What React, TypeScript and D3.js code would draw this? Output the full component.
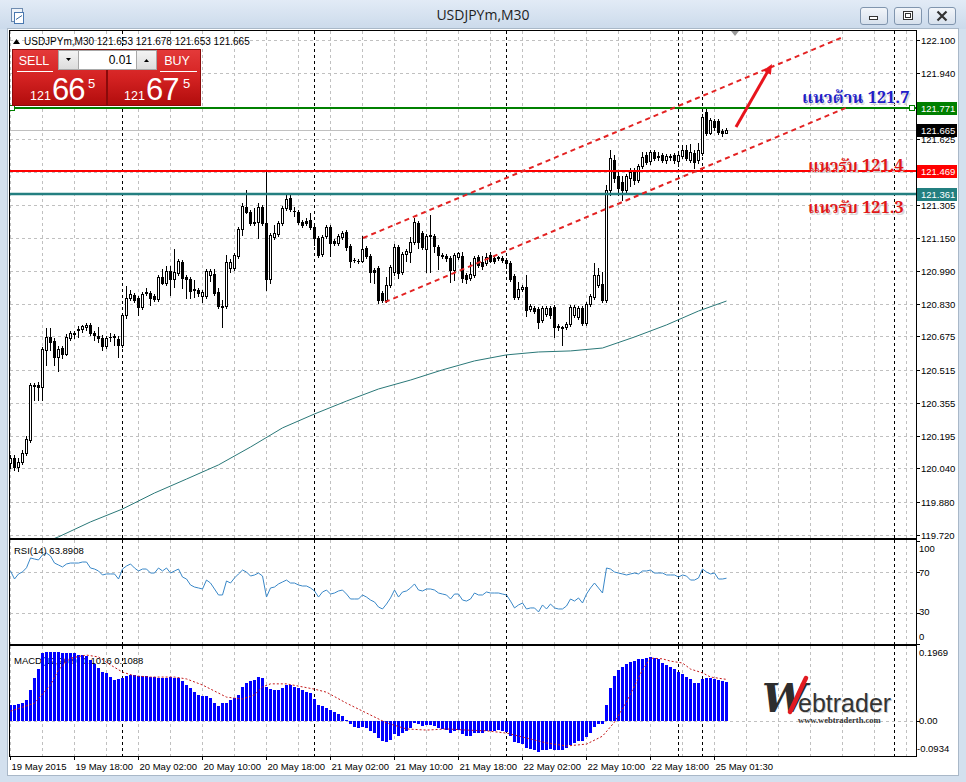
import React from "react";
import * as d3 from "d3";

// ---------------- DATA ----------------
const opens = [
120.066,120.090,120.047,120.071,120.114,120.177,120.441,120.441,120.432,120.610,
120.672,120.653,120.576,120.619,120.590,120.667,120.687,120.706,120.711,120.720,
120.730,120.691,120.677,120.667,120.629,120.672,120.672,120.663,120.634,120.778,
120.860,120.874,120.860,120.816,120.884,120.884,120.869,120.855,120.961,120.932,
120.989,120.951,120.980,121.033,120.961,120.951,120.898,120.898,120.869,120.869,
120.970,120.975,120.889,120.821,120.821,121.004,121.004,121.062,121.191,121.297,
121.273,121.220,121.225,121.297,121.220,120.951,121.153,121.167,121.220,121.292,
121.340,121.278,121.273,121.225,121.230,121.235,121.201,121.148,121.071,121.158,
121.201,121.134,121.124,121.153,121.177,121.110,121.042,121.038,121.038,121.100,
121.062,120.994,121.004,120.884,120.850,120.922,120.985,121.105,120.985,121.071,
121.081,121.129,121.220,121.172,121.095,121.158,121.158,121.105,121.066,121.062,
121.052,120.994,121.057,121.062,120.970,120.956,120.970,121.057,121.033,121.028,
121.066,121.052,121.052,121.052,121.042,121.028,120.966,120.865,120.903,120.913,
120.807,120.812,120.807,120.754,120.783,120.812,120.816,120.725,120.715,120.720,
120.735,120.778,120.768,120.812,120.739,120.831,120.865,120.922,120.927,120.850,
121.379,121.523,121.446,121.417,121.379,121.437,121.465,121.427,121.494,121.547,
121.518,121.561,121.542,121.547,121.523,121.537,121.547,121.518,121.542,121.571,
121.523,121.556,121.523,121.556,121.754,121.653,121.710,121.710,121.662,121.653];
const highs = [
120.105,120.105,120.090,120.129,120.196,120.451,120.451,120.456,120.624,120.715,
120.715,120.667,120.629,120.629,120.687,120.701,120.701,120.725,120.730,120.739,
120.739,120.701,120.720,120.682,120.677,120.691,120.687,120.677,120.788,120.918,
120.898,120.884,120.869,120.889,120.908,120.893,120.879,120.970,120.999,121.014,
121.014,121.095,121.047,121.042,120.970,120.961,120.946,120.908,120.898,120.999,
120.999,120.999,120.908,120.850,121.066,121.047,121.076,121.201,121.316,121.379,
121.283,121.292,121.316,121.307,121.465,121.172,121.211,121.230,121.302,121.364,
121.364,121.297,121.283,121.235,121.244,121.268,121.211,121.158,121.163,121.211,
121.211,121.143,121.167,121.182,121.187,121.119,121.052,121.047,121.158,121.110,
121.071,121.004,121.014,120.893,120.961,121.018,121.119,121.115,121.081,121.095,
121.153,121.244,121.230,121.182,121.167,121.258,121.167,121.115,121.076,121.071,
121.062,121.076,121.081,121.081,120.980,121.033,121.062,121.066,121.062,121.076,
121.081,121.062,121.062,121.062,121.052,121.038,120.975,120.937,120.922,120.970,
120.831,120.821,120.816,120.821,120.821,120.821,120.826,120.735,120.725,120.744,
120.826,120.826,120.821,120.821,120.840,120.879,121.028,121.004,120.985,121.403,
121.571,121.547,121.465,121.446,121.456,121.485,121.485,121.504,121.561,121.561,
121.571,121.571,121.561,121.556,121.552,121.552,121.556,121.556,121.595,121.595,
121.600,121.571,121.605,121.744,121.773,121.725,121.720,121.720,121.672,121.678];
const lows = [
120.042,120.033,120.028,120.062,120.105,120.167,120.369,120.369,120.369,120.538,
120.610,120.538,120.509,120.571,120.586,120.658,120.667,120.672,120.696,120.706,
120.682,120.658,120.648,120.610,120.619,120.653,120.634,120.576,120.624,120.763,
120.850,120.840,120.778,120.807,120.874,120.826,120.845,120.845,120.927,120.922,
120.874,120.913,120.970,120.908,120.860,120.860,120.865,120.869,120.840,120.860,
120.941,120.874,120.812,120.720,120.812,120.985,120.994,121.052,121.163,121.268,
121.211,121.211,121.148,121.211,120.898,120.932,121.143,121.158,121.211,121.283,
121.278,121.254,121.216,121.201,121.211,121.191,121.115,121.057,121.062,121.148,
121.062,121.115,121.115,121.143,121.090,121.009,121.033,121.028,121.033,121.052,
120.937,120.932,120.836,120.840,120.840,120.913,120.970,120.956,120.975,121.038,
121.033,121.119,121.100,121.095,120.985,120.985,121.081,120.999,121.052,121.038,
120.937,120.946,121.047,120.937,120.932,120.946,120.961,121.009,120.999,121.018,
121.033,121.028,121.042,121.033,121.004,120.941,120.855,120.855,120.893,120.773,
120.797,120.788,120.715,120.744,120.773,120.763,120.672,120.706,120.634,120.711,
120.725,120.768,120.759,120.730,120.730,120.821,120.855,120.913,120.840,120.840,
121.355,121.417,121.355,121.331,121.369,121.398,121.408,121.417,121.485,121.504,
121.504,121.523,121.523,121.513,121.509,121.523,121.509,121.494,121.533,121.523,
121.513,121.485,121.509,121.547,121.643,121.648,121.667,121.648,121.638,121.653];
const closes = [
120.090,120.047,120.071,120.114,120.182,120.441,120.437,120.432,120.614,120.672,
120.648,120.576,120.614,120.590,120.672,120.691,120.691,120.711,120.725,120.730,
120.691,120.682,120.667,120.629,120.667,120.672,120.677,120.634,120.778,120.860,
120.879,120.850,120.816,120.879,120.889,120.860,120.855,120.961,120.932,120.989,
120.951,120.985,121.038,120.956,120.951,120.893,120.903,120.884,120.889,120.989,
120.989,120.884,120.821,120.816,121.033,121.033,121.066,121.191,121.302,121.273,
121.220,121.225,121.297,121.220,120.951,121.163,121.172,121.220,121.292,121.335,
121.287,121.278,121.225,121.211,121.220,121.201,121.148,121.066,121.153,121.201,
121.124,121.124,121.158,121.172,121.105,121.038,121.042,121.038,121.095,121.062,
120.985,120.985,120.850,120.850,120.922,121.009,121.105,120.980,121.071,121.086,
121.129,121.225,121.129,121.105,121.158,121.163,121.110,121.066,121.062,121.052,
120.994,121.066,121.076,120.956,120.951,120.975,121.052,121.018,121.014,121.057,
121.038,121.038,121.057,121.042,121.028,120.951,120.865,120.903,120.913,120.802,
120.821,120.797,120.744,120.812,120.812,120.778,120.720,120.720,120.720,120.735,
120.816,120.816,120.812,120.739,120.831,120.869,120.970,120.970,120.850,121.379,
121.533,121.437,121.389,121.379,121.446,121.465,121.427,121.494,121.537,121.513,
121.561,121.533,121.537,121.523,121.542,121.542,121.523,121.547,121.571,121.533,
121.561,121.513,121.571,121.730,121.653,121.715,121.682,121.658,121.655,121.665];

// moving average (read at selected bars)
const maBars = [10,12,20,28,36,44,52,60,68,76,84,92,100,108,116,124,132,140,148,156,164,172,179];
const maValues = [119.696,119.711,119.783,119.845,119.922,119.989,120.057,120.143,120.235,120.302,120.364,120.422,120.465,120.514,120.557,120.586,120.600,120.605,120.619,120.672,120.730,120.797,120.845];

const rsiValues = [
70.9,63.1,68,70,74,83.5,82.5,81.6,86.4,88.3,
85.4,78.6,76.7,74.8,77.7,78.6,78.6,78.6,79.6,79.6,
73.8,72.8,70.9,67,68,68,68,63.1,72.8,75.7,
77.7,73.8,70.9,72.8,72.8,68.9,68.9,73.8,70.9,73.8,
68.9,70.9,72.8,65,63.1,57.3,55.3,54.4,53.4,62.1,
59.2,53.4,47.6,47.6,61.2,59.2,64.1,68,71.8,69.9,
66,67,68.9,66,45.6,54.4,55.3,58.3,60.2,62.1,
59.2,59.2,57.3,56.3,56.3,54.4,51.5,45.6,50.5,52.4,
48.5,49.5,51.5,52.4,48.5,43.7,43.7,43.7,47.6,45.6,
42.7,40.8,35.9,34,38.8,44.7,52.4,45.6,50.5,51.5,
54.4,58.3,52.4,51.5,53.4,53.4,52.4,49.5,48.5,47.6,
43.7,48.5,48.5,42.7,41.7,43.7,49.5,47.6,47.6,50.5,
49.5,49.5,49.5,48.5,47.6,41.7,35,37.9,39.8,34,
35,35,31.1,37.9,34,38.8,35,34,34,36.9,
43.7,41.7,44.7,39.8,48.5,54.4,59.2,54.4,49.5,73.8,
72.8,69.9,68.9,68,67,68,68.9,68,70.9,70.9,
71.8,68.9,68.9,68.9,67,67,67,65,67,66,
62.1,62.1,64.1,72.8,69.9,68,68.9,63.1,63.1,63.89];

const macdValues = [
0.041,0.041,0.044,0.046,0.054,0.081,0.112,0.136,0.178,0.181,
0.181,0.181,0.181,0.178,0.178,0.178,0.178,0.173,0.173,0.170,
0.160,0.149,0.139,0.128,0.126,0.115,0.107,0.110,0.112,0.118,
0.120,0.120,0.118,0.118,0.118,0.115,0.115,0.112,0.112,0.112,
0.115,0.112,0.112,0.104,0.094,0.086,0.075,0.068,0.065,0.065,
0.060,0.046,0.039,0.046,0.046,0.054,0.060,0.068,0.089,0.099,
0.104,0.107,0.115,0.112,0.089,0.083,0.081,0.081,0.086,0.094,
0.094,0.089,0.086,0.081,0.075,0.073,0.057,0.041,0.039,0.033,
0.028,0.023,0.017,0.012,0.002,-0.009,-0.017,-0.020,-0.017,-0.020,
-0.027,-0.033,-0.046,-0.054,-0.056,-0.051,-0.035,-0.041,-0.033,-0.027,
-0.020,-0.006,-0.009,-0.014,-0.012,-0.012,-0.014,-0.020,-0.022,-0.025,
-0.033,-0.027,-0.025,-0.035,-0.041,-0.041,-0.033,-0.033,-0.033,-0.027,
-0.027,-0.027,-0.025,-0.027,-0.030,-0.041,-0.056,-0.059,-0.062,-0.072,
-0.075,-0.077,-0.083,-0.077,-0.077,-0.075,-0.077,-0.077,-0.077,-0.072,
-0.064,-0.059,-0.054,-0.054,-0.043,-0.033,-0.017,-0.009,-0.009,0.041,
0.086,0.118,0.134,0.141,0.149,0.155,0.157,0.163,0.163,0.165,
0.168,0.165,0.163,0.152,0.147,0.141,0.136,0.128,0.123,0.115,
0.110,0.099,0.099,0.110,0.112,0.112,0.110,0.107,0.104,0.1016];

const signalBars = [0,6,10,12,15,19,22,25,28,31,35,41,44,48,51,54,58,61,63,65,69,72,76,79,84,89,94,99,104,109,114,119,124,129,134,139,144,148,151,154,158,160,163,165,168,170,173,175,179];
const signalValues = [0.025,0.046,0.094,0.134,0.165,0.173,0.168,0.147,0.128,0.118,0.115,0.115,0.110,0.094,0.078,0.062,0.057,0.068,0.089,0.097,0.097,0.091,0.083,0.075,0.046,0.020,-0.006,-0.022,-0.025,-0.022,-0.025,-0.027,-0.033,-0.046,-0.059,-0.067,-0.062,-0.041,-0.004,0.049,0.134,0.165,0.163,0.157,0.152,0.136,0.126,0.115,0.1088];

const priceTicks = [122.100,121.940,121.780,121.625,121.465,121.305,121.150,120.990,120.830,120.675,120.515,120.355,120.195,120.040,119.880,119.720];
const timeLabels = ["19 May 2015","19 May 18:00","20 May 02:00","20 May 10:00","20 May 18:00","21 May 02:00","21 May 10:00","21 May 18:00","22 May 02:00","22 May 10:00","22 May 18:00","25 May 01:30"];
const timeLabelBars = [0,16,32,48,64,80,96,112,128,144,160,176];
const separatorBars = [28,76,124,167,173,221];

const resistanceLevel = 121.771;
const supportLevel1 = 121.469;
const supportLevel2 = 121.361;
const bidPrice = 121.665;
const channelUpper = [[88.25,121.148],[208.25,122.114]];
const channelLower = [[93.75,120.840],[209.5,121.778]];
const arrowPts = [[181.5,121.682],[190.5,121.985]];

// ---------------- COMPONENT ----------------
export default function App() {
  const xs = d3.scaleLinear().domain([0, 1]).range([10, 14]);
  const yP = d3.scaleLinear().domain([119.72, 122.1]).range([535, 40]);
  const yR = d3.scaleLinear().domain([0, 100]).range([644, 541]);
  const yM = d3.scaleLinear().domain([-0.0934, 0.1969]).range([756, 646]);

  const L = 10, R = 916;
  const mainTop = 31, mainBot = 538;
  const rsiTop = 540, rsiBot = 644;
  const macdTop = 646, macdBot = 756;
  const axisFont = "'Liberation Sans', Arial, sans-serif";
  const thaiFont = "'Noto Serif Thai','Noto Sans Thai','Loma','Tahoma','Garuda','DejaVu Serif',serif";

  const gridX: number[] = [];
  for (let b = 0; Math.round(xs(b)) < R; b += 8) gridX.push(Math.round(xs(b)) + 0.5);
  const sepX = separatorBars.map((b) => Math.round(xs(b)) + 0.5);

  const vGrid = (y0: number, y1: number) =>
    gridX.map((x, k) => (
      <line key={"g" + k} x1={x} x2={x} y1={y0} y2={y1} stroke="#c0c0c0" strokeDasharray="3,3" />
    ));
  const seps = (y0: number, y1: number) =>
    sepX.map((x, k) => (
      <line key={"s" + k} x1={x} x2={x} y1={y0} y2={y1} stroke="#000" strokeDasharray="3,3" />
    ));

  const candles = opens.map((o, i) => {
    const c = Math.round(xs(i));
    const cl = closes[i];
    const yo = Math.round(yP(o)), yc = Math.round(yP(cl));
    const yh = Math.round(yP(Math.max(highs[i], o, cl)));
    const yl = Math.round(yP(Math.min(lows[i], o, cl)));
    const top = Math.min(yo, yc), bot = Math.max(yo, yc);
    let body;
    if (bot - top < 1) body = <rect x={c - 1} y={top} width={3} height={1} fill="#000" />;
    else if (cl > o)
      body = <rect x={c - 0.5} y={top + 0.5} width={2} height={bot - top} fill="#fff" stroke="#000" strokeWidth={1} />;
    else body = <rect x={c - 1} y={top} width={3} height={bot - top + 1} fill="#000" />;
    return (
      <g key={i}>
        <line x1={c + 0.5} x2={c + 0.5} y1={yh} y2={yl + 1} stroke="#000" />
        {body}
      </g>
    );
  });

  const maLine = d3.line<number>().x((_, k) => xs(maBars[k]) + 0.5).y((v) => yP(v));
  const rsiLine = d3.line<number>().x((_, k) => Math.round(xs(k)) + 0.5).y((v) => yR(v));
  const sigLine = d3.line<number>().x((_, k) => Math.round(xs(signalBars[k])) + 0.5).y((v) => yM(v));
  const zeroY = Math.round(yM(0));

  const hLevel = (p: number) => Math.round(yP(p));
  const gY = hLevel(resistanceLevel), rY = hLevel(supportLevel1), tY = hLevel(supportLevel2), bY = hLevel(bidPrice);

  const a0 = [xs(arrowPts[0][0]), yP(arrowPts[0][1])];
  const a1 = [xs(arrowPts[1][0]), yP(arrowPts[1][1])];
  const ang = Math.atan2(a1[1] - a0[1], a1[0] - a0[0]);
  const ah = 11;
  const head = [
    [a1[0], a1[1]],
    [a1[0] - ah * Math.cos(ang - 0.42), a1[1] - ah * Math.sin(ang - 0.42)],
    [a1[0] - ah * Math.cos(ang + 0.42), a1[1] - ah * Math.sin(ang + 0.42)],
  ];

  const axisLabel = (y: number, txt: string, bg: string | null, key: string) => (
    <g key={key}>
      {bg && <rect x={917} y={y - 6} width={40} height={13} fill={bg} />}
      <text x={921} y={y + 4} fontSize={9.5} fontFamily={axisFont} fill={bg ? "#fff" : "#000"}>{txt}</text>
    </g>
  );

  const thaiText = (x: number, y: number, txt: string, color: string) => (
    <g>
      <text x={x + 1.5} y={y + 1.5} fontSize={16.5} fontWeight="bold" fontFamily={thaiFont} fill="#d8d8d8">{txt}</text>
      <text x={x} y={y} fontSize={16.5} fontWeight="bold" fontFamily={thaiFont} fill={color}>{txt}</text>
    </g>
  );

  return (
    <svg width={966} height={782} style={{ position: "absolute", left: 0, top: 0 }} xmlns="http://www.w3.org/2000/svg">
      <defs>
        <linearGradient id="title" x1="0" y1="0" x2="0" y2="1">
          <stop offset="0" stopColor="#e2ebf6" />
          <stop offset="1" stopColor="#cbdaeb" />
        </linearGradient>
        <linearGradient id="btn" x1="0" y1="0" x2="0" y2="1">
          <stop offset="0" stopColor="#f3f6fa" />
          <stop offset="1" stopColor="#d6e0ec" />
        </linearGradient>
        <linearGradient id="red" x1="0" y1="0" x2="0" y2="1">
          <stop offset="0" stopColor="#e43a3a" />
          <stop offset="0.5" stopColor="#d42222" />
          <stop offset="1" stopColor="#b10c0c" />
        </linearGradient>
        <linearGradient id="gbtn" x1="0" y1="0" x2="0" y2="1">
          <stop offset="0" stopColor="#f4f4f4" />
          <stop offset="1" stopColor="#dcdcdc" />
        </linearGradient>
        <clipPath id="mainClip"><rect x={L} y={mainTop} width={R - L} height={mainBot - mainTop} /></clipPath>
        <clipPath id="rsiClip"><rect x={L} y={rsiTop} width={R - L} height={rsiBot - rsiTop} /></clipPath>
        <clipPath id="macdClip"><rect x={L} y={macdTop} width={R - L} height={macdBot - macdTop} /></clipPath>
      </defs>

      {/* window frame */}
      <rect x={0} y={0} width={966} height={782} fill="#d3e0ee" />
      <rect x={0} y={0} width={966} height={29} fill="url(#title)" />
      <g>
        <rect x={11.5} y={8.5} width={11} height={13} fill="#eef3f9" stroke="#6f8cb0" />
        <rect x={14.5} y={12.5} width={9} height={11} fill="#ffffff" stroke="#4a78b0" />
        <line x1={16} x2={22} y1={19.5} y2={15.5} stroke="#3a6aa0" />
      </g>
      <text x={483} y={20} textAnchor="middle" fontSize={14} fontFamily="'Open Sans','Noto Sans',sans-serif" fill="#1e1e1e">USDJPYm,M30</text>
      {[860, 894, 928].map((bx, k) => (
        <rect key={k} x={bx + 0.5} y={7.5} width={27} height={17} rx={2.5} fill="url(#btn)" stroke="#8095ae" />
      ))}
      <rect x={869.5} y={16.5} width={8} height={3} fill="#fff" stroke="#333" />
      <rect x={903.5} y={11.5} width={9} height={8} fill="#fff" stroke="#333" />
      <rect x={905.5} y={13.5} width={5} height={4} fill="#fff" stroke="#333" />
      <path d="M937.5,11.5 L946.5,20.5 M946.5,11.5 L937.5,20.5" stroke="#333" strokeWidth={2.2} />

      {/* client area */}
      <rect x={7.5} y={28.5} width={951} height={747} fill="#fff" stroke="#a9b8c8" />

      {/* ===== MAIN PANEL ===== */}
      <g>
        {vGrid(mainTop, mainBot)}
        {priceTicks.map((t, k) => {
          const y = Math.round(yP(t)) + 0.5;
          return <line key={k} x1={L} x2={R} y1={y} y2={y} stroke="#c0c0c0" strokeDasharray="3,3" />;
        })}
        {seps(mainTop, mainBot)}
        <line x1={L} x2={R} y1={bY + 0.5} y2={bY + 0.5} stroke="#c0c0c0" />
        <g clipPath="url(#mainClip)">
          <path d={maLine(maValues) || ""} fill="none" stroke="#2a7878" strokeWidth={1} />
          {candles}
          <line x1={L} x2={R} y1={gY} y2={gY} stroke="#008000" strokeWidth={2} />
          <line x1={L} x2={R} y1={rY} y2={rY} stroke="#ff0000" strokeWidth={2} />
          <line x1={L} x2={R} y1={tY} y2={tY} stroke="#237f80" strokeWidth={2.5} />
          <line x1={xs(channelUpper[0][0])} y1={yP(channelUpper[0][1])} x2={xs(channelUpper[1][0])} y2={yP(channelUpper[1][1])} stroke="#e32222" strokeWidth={2} strokeDasharray="5,4" />
          <line x1={xs(channelLower[0][0])} y1={yP(channelLower[0][1])} x2={xs(channelLower[1][0])} y2={yP(channelLower[1][1])} stroke="#e32222" strokeWidth={2} strokeDasharray="5,4" />
          <line x1={a0[0]} y1={a0[1]} x2={a1[0] - 6 * Math.cos(ang)} y2={a1[1] - 6 * Math.sin(ang)} stroke="#e8141c" strokeWidth={3} />
          <polygon points={head.map((p) => p.join(",")).join(" ")} fill="#e8141c" />
        </g>
        <rect x={9.5} y={gY - 2.5} width={5} height={5} fill="#fff" stroke="#008000" />
        <rect x={909.5} y={gY - 2.5} width={5} height={5} fill="#fff" stroke="#008000" />
        <polygon points="731,31 739,31 735,36" fill="#9a9a9a" />
        {thaiText(802, 103, "แนวต้าน 121.7", "#2020c8")}
        {thaiText(808, 171, "แนวรับ 121.4", "#e01818")}
        {thaiText(808, 213, "แนวรับ 121.3", "#e01818")}
        <rect x={L - 0.5} y={mainTop - 0.5} width={R - L + 1} height={mainBot - mainTop + 1} fill="none" stroke="#000" />
      </g>

      {/* header text */}
      <path d="M13,44 L16.5,39 L20,44 Z" fill="#000" />
      <text x={24} y={44.5} fontSize={10} fontFamily={axisFont} fill="#000">USDJPYm,M30  121.653 121.678 121.653 121.665</text>

      {/* one-click trading panel */}
      <g>
        <rect x={12.5} y={49.5} width={94} height={56} fill="url(#red)" stroke="#8a0a0a" />
        <rect x={107.5} y={49.5} width={93} height={56} fill="url(#red)" stroke="#8a0a0a" />
        <line x1={17} x2={53} y1={71.5} y2={71.5} stroke="#fff" />
        <line x1={160} x2={197} y1={71.5} y2={71.5} stroke="#fff" />
        <text x={34} y={65} textAnchor="middle" fontSize={12.5} fontFamily={axisFont} fill="#fff">SELL</text>
        <text x={177} y={65} textAnchor="middle" fontSize={12.5} fontFamily={axisFont} fill="#fff">BUY</text>
        <rect x={58.5} y={50.5} width={98} height={19} fill="#fff" stroke="#a8a8a8" />
        <rect x={58.5} y={50.5} width={20} height={19} fill="url(#gbtn)" stroke="#a8a8a8" />
        <rect x={136.5} y={50.5} width={20} height={19} fill="url(#gbtn)" stroke="#a8a8a8" />
        <path d="M66,58 L71,58 L68.5,61 Z" fill="#000" />
        <path d="M144,62 L149,62 L146.5,59 Z" fill="#000" />
        <text x={132} y={64} textAnchor="end" fontSize={12} fontFamily={axisFont} fill="#000">0.01</text>
        <text x={30} y={100} fontSize={12.5} fontFamily={axisFont} fill="#fff">121</text>
        <text x={52} y={100} fontSize={31} fontFamily={axisFont} fill="#fff" letterSpacing={-1}>66</text>
        <text x={88} y={88} fontSize={13} fontFamily={axisFont} fill="#fff">5</text>
        <text x={124} y={100} fontSize={12.5} fontFamily={axisFont} fill="#fff">121</text>
        <text x={146} y={100} fontSize={31} fontFamily={axisFont} fill="#fff" letterSpacing={-1}>67</text>
        <text x={183} y={88} fontSize={13} fontFamily={axisFont} fill="#fff">5</text>
      </g>

      {/* price axis */}
      {priceTicks.map((t, k) => {
        const y = Math.round(yP(t)) + 0.5;
        return <line key={"pt" + k} x1={R} x2={R + 4} y1={y} y2={y} stroke="#000" />;
      })}
      {priceTicks.map((t, k) => axisLabel(Math.round(yP(t)), t.toFixed(3), null, "pl" + k))}
      {axisLabel(gY, resistanceLevel.toFixed(3), "#008000", "lg")}
      {axisLabel(bY, bidPrice.toFixed(3), "#000000", "lb")}
      {axisLabel(rY, supportLevel1.toFixed(3), "#ff0000", "lr")}
      {axisLabel(tY, supportLevel2.toFixed(3), "#237f80", "lt")}

      {/* ===== RSI PANEL ===== */}
      <g>
        {vGrid(rsiTop, rsiBot)}
        {[70, 30].map((v) => {
          const y = Math.round(yR(v)) + 0.5;
          return <line key={v} x1={L} x2={R} y1={y} y2={y} stroke="#c0c0c0" strokeDasharray="3,3" />;
        })}
        {seps(rsiTop, rsiBot)}
        <g clipPath="url(#rsiClip)">
          <path d={rsiLine(rsiValues) || ""} fill="none" stroke="#3a88c8" strokeWidth={1} />
        </g>
        <text x={14} y={554} fontSize={9.5} fontFamily={axisFont} fill="#000">RSI(14) 63.8908</text>
        <rect x={L - 0.5} y={rsiTop - 0.5} width={R - L + 1} height={rsiBot - rsiTop + 1} fill="none" stroke="#000" />
        {[[100, 551.5], [70, 575.5], [30, 615], [0, 640]].map(([v, ty]) => (
          <g key={v}>
            <line x1={R} x2={R + 4} y1={Math.round(yR(v)) + 0.5} y2={Math.round(yR(v)) + 0.5} stroke="#000" />
            <text x={919} y={ty} fontSize={9.5} fontFamily={axisFont} fill="#000">{v}</text>
          </g>
        ))}
      </g>

      {/* ===== MACD PANEL ===== */}
      <g>
        {vGrid(macdTop, macdBot)}
        <line x1={L} x2={R} y1={zeroY + 0.5} y2={zeroY + 0.5} stroke="#c0c0c0" strokeDasharray="3,3" />
        {seps(macdTop, macdBot)}
        <text x={14} y={664} fontSize={9.5} fontFamily={axisFont} fill="#000">MACD(12,26,9) 0.1016 0.1088</text>
        <g clipPath="url(#macdClip)">
          {macdValues.map((v, i) => {
            const c = Math.round(xs(i));
            const y = Math.round(yM(v));
            const top = Math.min(y, zeroY), h = Math.max(Math.abs(y - zeroY), 1);
            return <rect key={i} x={c - 1} y={top} width={3} height={h} fill="#0000ff" />;
          })}
          <path d={sigLine(signalValues) || ""} fill="none" stroke="#c41a1a" strokeWidth={1} strokeDasharray="2,2" />
        </g>
        <rect x={L - 0.5} y={macdTop - 0.5} width={R - L + 1} height={macdBot - macdTop + 1} fill="none" stroke="#000" />
        <text x={919} y={655.5} fontSize={9.5} fontFamily={axisFont} fill="#000">0.1969</text>
        <text x={919} y={723.5} fontSize={9.5} fontFamily={axisFont} fill="#000">0.00</text>
        <text x={917} y={751.5} fontSize={9.5} fontFamily={axisFont} fill="#000">-0.0934</text>
        <line x1={R} x2={R + 4} y1={zeroY + 0.5} y2={zeroY + 0.5} stroke="#000" />

        {/* logo */}
        <g>
          <text x={762} y={712} fontSize={40} fontWeight="bold" fontStyle="italic" fontFamily="'DejaVu Serif','Liberation Serif',serif" fill="#2e2e2e" letterSpacing={-3}>W</text>
          <path d="M790,712 C796,700 800,690 806,678" stroke="#e11b22" strokeWidth={4.5} fill="none" strokeLinecap="round" />
          <text x={799} y={713} fontSize={25} fontFamily="'Liberation Sans',Arial,sans-serif" fill="#cfcfcf">ebtrader</text>
          <text x={798} y={712} fontSize={25} fontFamily="'Liberation Sans',Arial,sans-serif" fill="#333">ebtrader</text>
          <text x={798} y={723} fontSize={8.5} fontWeight="bold" fontFamily="'Liberation Serif','DejaVu Serif',serif" fill="#333">www.webtraderth.com</text>
        </g>
      </g>

      {/* time axis */}
      {timeLabelBars.map((b, k) => {
        const x = Math.round(xs(b)) + 0.5;
        return (
          <g key={"t" + k}>
            <line x1={x} x2={x} y1={macdBot} y2={macdBot + 4} stroke="#000" />
            <text x={x + 1} y={770} fontSize={9.5} fontFamily={axisFont} fill="#000">{timeLabels[k]}</text>
          </g>
        );
      })}
    </svg>
  );
}
